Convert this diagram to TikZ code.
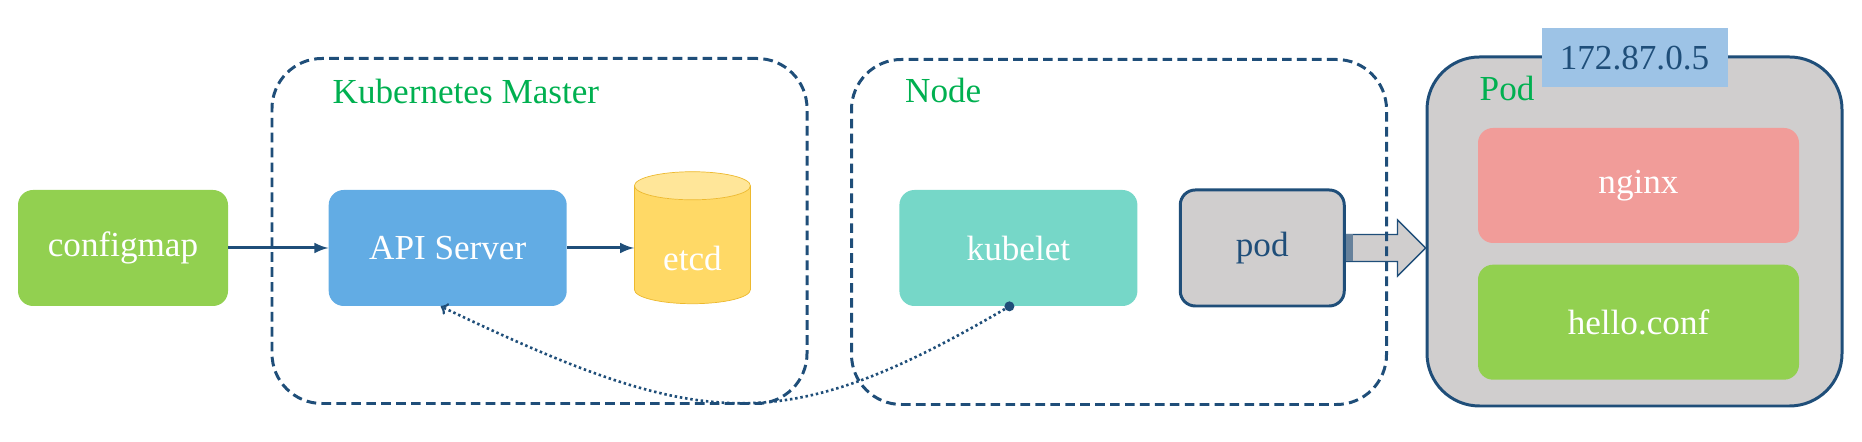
\documentclass[tikz,border=0pt]{standalone}
\usepackage{fontspec}
\setmainfont{Liberation Serif}
\usepackage{tikz}
\usetikzlibrary{shapes,arrows,backgrounds,%
positioning,calc,shapes.geometric%
}

\definecolor{lineblue}{HTML}{1F4E79}
\definecolor{labelgreen}{HTML}{00B050}
\definecolor{cmgreen}{HTML}{92D050}
\definecolor{apiblue}{HTML}{62ACE4}
\definecolor{etcdyellow}{HTML}{FFD966}
\definecolor{etcdtop}{HTML}{FFE699}
\definecolor{etcdedge}{HTML}{EDB92E}
\definecolor{kubeteal}{HTML}{76D7C8}
\definecolor{podgray}{HTML}{D0CECE}
\definecolor{nginxred}{HTML}{F19C99}
\definecolor{ipblue}{HTML}{9DC3E6}

\begin{document}
\begin{tikzpicture}[
  font=\fontsize{20}{24}\selectfont,
  box/.style={rounded corners=0.3cm, minimum height=2.32cm, text=white},
  groupbox/.style={draw=lineblue, line width=1.7pt, dash pattern=on 5.5pt off 3pt,
    rounded corners=1cm, minimum width=10.7cm, minimum height=6.9cm},
  grouplabel/.style={text=labelgreen, anchor=base west},
  link/.style={draw=lineblue, line width=1.7pt, -latex},
  ]
  \useasboundingbox (0,0) rectangle (37.24,8.84);

  % the three frames
  \node[draw=lineblue, fill=podgray, line width=1.7pt, rounded corners=1.05cm,
    minimum width=8.3cm, minimum height=6.98cm] (podgroup) at (32.69,4.21) {};
  \node[groupbox](master) at (10.79,4.22) {};
  \node[groupbox](nodebox) at (22.38,4.2) {};

  \node[grouplabel] (masterlabel) at ($(master.north west)+(1.12,-0.94)$) {Kubernetes Master};
  \node[grouplabel] (nodelabel) at ($(nodebox.north west)+(0.98,-0.9)$) {Node};
  \node[grouplabel] (podlabel) at ($(podgroup.north west)+(0.96,-0.9)$) {Pod};
  \node[fill=ipblue, text=lineblue, minimum width=3.72cm, minimum height=1.18cm]
    (ip) at ($(podgroup.north)+(0,-0.05)$) {172.87.0.5};

  \node[box, fill=cmgreen, minimum width=4.2cm] (configmap) at (2.46,3.88) {configmap};
  \node[box, fill=apiblue, minimum width=4.76cm, right=2cm of configmap] (api) {API Server};
  \node[cylinder, shape border rotate=90, aspect=0.4, draw=etcdedge,
    cylinder uses custom fill, cylinder body fill=etcdyellow, cylinder end fill=etcdtop,
    minimum width=2.32cm, minimum height=2.64cm, text=white,
    right=1.34cm of api] (etcd) {\raisebox{-0.2cm}[\height][\depth]{etcd}};
  \node[box, fill=kubeteal, minimum width=4.76cm, right=6.64cm of api] (kubelet) {kubelet};
  \node[box, draw=lineblue, line width=1.7pt, fill=podgray, text=lineblue,
    minimum width=3.28cm, right=0.82cm of kubelet] (pod) {pod};

  \node[box, fill=nginxred, minimum width=6.42cm, minimum height=2.3cm]
    (nginx) at ($(podgroup.center)+(0.08,0.92)$) {nginx};
  \node[box, fill=cmgreen, minimum width=6.42cm, minimum height=2.3cm,
    below=0.42cm of nginx] (hello) {hello.conf};

  \draw[link] (configmap) -- (api);
  \draw[link] (api.east) -- (api.east -| etcd.west);

  % kubelet watches the api server
  \coordinate (kdot) at ($(kubelet.south)+(-0.18,0)$);
  \coordinate (adot) at ($(api.south)+(-0.14,0)$);
  \fill[lineblue] (kdot) circle (0.1);
  \draw[lineblue, line width=1.5pt, dash pattern=on 1.4pt off 1.6pt, ->]
    (kdot) .. controls +(-4.56,-2.68) and +(5.2,-2.48) .. (adot);

  % pod -> Pod
  \coordinate (tip) at (podgroup.west |- pod.east);
  \coordinate (neck) at ($(tip)+(-0.56,0)$);
  \begin{scope}[on background layer]
    \draw[lineblue, fill=podgray, line width=0.8pt]
      ($(pod.east)+(0,0.27)$) -- ($(neck)+(0,0.27)$) -- ($(neck)+(0,0.56)$) -- (tip)
      -- ($(neck)+(0,-0.56)$) -- ($(neck)+(0,-0.27)$) -- ($(pod.east)+(0,-0.27)$) -- cycle;
    \fill[lineblue!60!podgray] ($(pod.east)+(0,0.27)$) rectangle ($(pod.east)+(0.14,-0.27)$);
  \end{scope}
\end{tikzpicture}
\end{document}
